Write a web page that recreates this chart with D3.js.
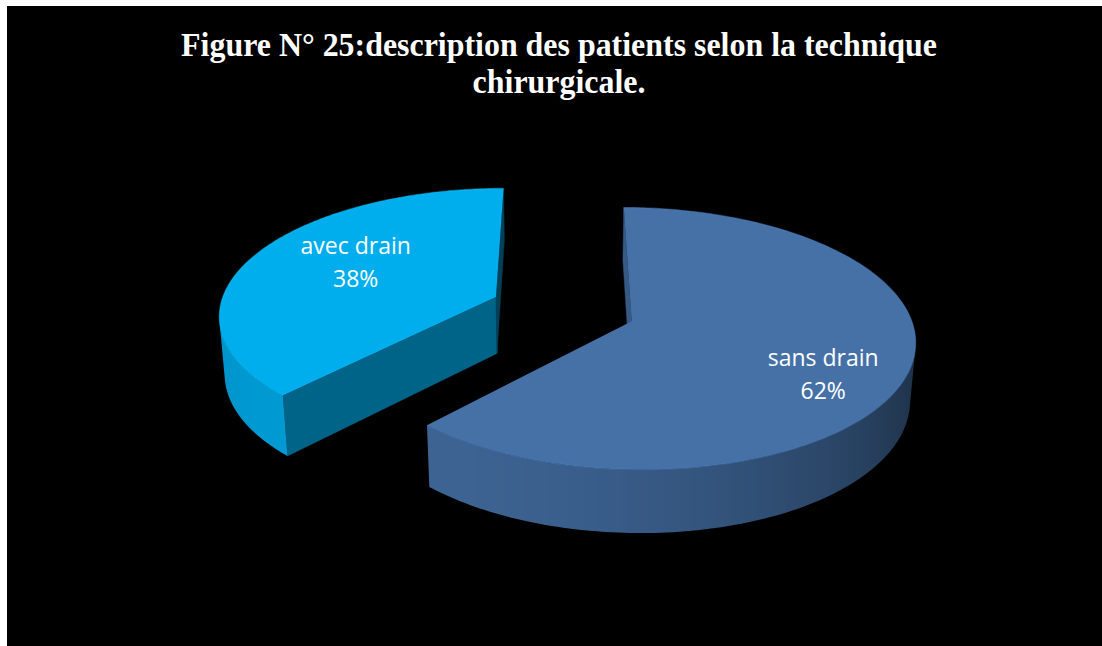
<!DOCTYPE html>
<html>
<head>
<meta charset="utf-8">
<script src="https://cdn.jsdelivr.net/npm/d3@7"></script>
<style>
  html, body { margin: 0; padding: 0; background: #ffffff; }
  svg { display: block; }
</style>
</head>
<body>
<svg id="chart" width="1102" height="646"></svg>
<script>
// ---- data ----
const categories = ["sans drain", "avec drain"];
const values = [62, 38];
const percentLabels = ["62%", "38%"];
const titleLines = ["Figure N° 25:description des patients selon la technique", "chirurgicale."];

// ---- styling / layout ----
const sliceColors = ["#4571a7", "#00aeee"];
const W = 1102, H = 646;
const view = {
  tilt: 27 * Math.PI / 180,
  dist: 6.87,
  focal: 1900,
  cx: 563, cy: 309,
  thickness: 0.235,
  explode: 0.264
};
const labelLayout = { radius: 0.68, nudge: [[6, 28], [25, 3]], lineGap: 33 };

const svg = d3.select("#chart");
const defs = svg.append("defs");
svg.append("rect").attr("x", 7).attr("y", 6).attr("width", W - 7).attr("height", H - 6).attr("fill", "#000");

const cosA = Math.cos(view.tilt), sinA = Math.sin(view.tilt);
function project(X, Y, Z) {
  const w = view.dist - (Z * cosA + Y * sinA);
  const u = Y * cosA - Z * sinA;
  return [view.cx + view.focal * X / w, view.cy - view.focal * u / w];
}
function area(pts) {
  let s = 0;
  for (let i = 0; i < pts.length; i++) {
    const a = pts[i], b = pts[(i + 1) % pts.length];
    s += a[0] * b[1] - b[0] * a[1];
  }
  return s / 2;
}
const L = [-Math.SQRT1_2, Math.SQRT1_2];
function shade(color, nx, nz) {
  const dot = nx * L[0] + nz * L[1];
  const k = 0.58 + 0.3 * dot;
  const c = d3.rgb(color);
  return d3.rgb(c.r * k, c.g * k, c.b * k).formatHex();
}

const pie = d3.pie().sort(null).startAngle(0).endAngle(2 * Math.PI);
const arcs = pie(values);
const line = d3.line().curve(d3.curveLinearClosed);

const order = [1, 0];
order.forEach(i => {
  const a = arcs[i];
  const mid = (a.startAngle + a.endAngle) / 2;
  const ox = view.explode * Math.sin(mid), oz = -view.explode * Math.cos(mid);
  const base = sliceColors[i];
  const g = svg.append("g").attr("class", "slice");
  const rim = (t, y) => project(ox + Math.sin(t), y, oz - Math.cos(t));
  const apex = y => project(ox, y, oz);
  const top = 0, bot = -view.thickness;

  // radial faces
  const startFace = [apex(top), rim(a.startAngle, top), rim(a.startAngle, bot), apex(bot)];
  if (area(startFace) < 0) {
    const c = shade(base, -Math.cos(a.startAngle), -Math.sin(a.startAngle));
    g.append("path").attr("d", line(startFace)).attr("fill", c).attr("stroke", c).attr("stroke-width", 0.5);
  }
  const endFace = [apex(top), apex(bot), rim(a.endAngle, bot), rim(a.endAngle, top)];
  if (area(endFace) < 0) {
    const c = shade(base, Math.cos(a.endAngle), Math.sin(a.endAngle));
    g.append("path").attr("d", line(endFace)).attr("fill", c).attr("stroke", c).attr("stroke-width", 0.5);
  }

  // curved side: one polygon of the visible band with a horizontal gradient
  const n = 200;
  const step = (a.endAngle - a.startAngle) / n;
  const vis = [];
  for (let k = 0; k <= n; k++) {
    const t = a.startAngle + k * step;
    const t0 = Math.max(a.startAngle, t - step / 2), t1 = Math.min(a.endAngle, t + step / 2);
    const q = [rim(t0, top), rim(t1, top), rim(t1, bot), rim(t0, bot)];
    if (area(q) < 0) vis.push(t);
  }
  if (vis.length > 1) {
    const topArc = vis.map(t => rim(t, top));
    const botArc = vis.map(t => rim(t, bot));
    const xs = topArc.map(p => p[0]);
    const x0 = d3.min(xs), x1 = d3.max(xs);
    const gid = "side" + i;
    const grad = defs.append("linearGradient").attr("id", gid)
      .attr("gradientUnits", "userSpaceOnUse")
      .attr("x1", x0).attr("y1", 0).attr("x2", x1).attr("y2", 0);
    const stops = vis.map((t, k) => ({ off: (xs[k] - x0) / (x1 - x0), col: shade(base, Math.sin(t), -Math.cos(t)) }))
      .sort((p, q) => p.off - q.off);
    stops.forEach(s => grad.append("stop").attr("offset", s.off).attr("stop-color", s.col));
    g.append("path").attr("d", line(topArc.concat(botArc.reverse()))).attr("fill", `url(#${gid})`);
  }

  // top face
  const topPts = [apex(top)];
  for (let k = 0; k <= n; k++) topPts.push(rim(a.startAngle + k * step, top));
  g.append("path").attr("d", line(topPts)).attr("fill", base);

  // subtle rim highlight
  const rimPts = [];
  for (let k = 0; k <= n; k++) rimPts.push(rim(a.startAngle + k * step, top));
  g.append("path").attr("d", d3.line()(rimPts)).attr("fill", "none")
    .attr("stroke", d3.rgb(base).brighter(0.6)).attr("stroke-opacity", 0.4).attr("stroke-width", 1.2);

  // label
  const lp = project(ox + labelLayout.radius * Math.sin(mid), top, oz - labelLayout.radius * Math.cos(mid));
  const lx = lp[0] + labelLayout.nudge[i][0], ly = lp[1] + labelLayout.nudge[i][1];
  const txt = svg.append("text").attr("text-anchor", "middle")
    .attr("font-family", "'Open Sans', sans-serif").attr("font-size", 23).attr("fill", "#fff");
  txt.append("tspan").attr("x", lx).attr("y", ly - labelLayout.lineGap / 2).text(categories[i]);
  txt.append("tspan").attr("x", lx).attr("y", ly + labelLayout.lineGap / 2).text(percentLabels[i]);
});

// title
const tg = svg.append("g");
const font = "'Liberation Serif', 'Times New Roman', serif";
const t1 = tg.append("text").attr("x", 0).attr("y", 56).attr("text-anchor", "middle")
  .attr("font-family", font).attr("font-weight", "bold")
  .attr("font-size", 33).attr("fill", "#fff").text(titleLines[0]);
tg.append("text").attr("x", 0).attr("y", 93).attr("text-anchor", "middle")
  .attr("font-family", font).attr("font-weight", "bold")
  .attr("font-size", 33).attr("fill", "#fff").text(titleLines[1]);
const natural = t1.node().getComputedTextLength();
const kx = 756 / natural;
tg.attr("transform", `translate(559,0) scale(${kx},1)`);
</script>
</body>
</html>
